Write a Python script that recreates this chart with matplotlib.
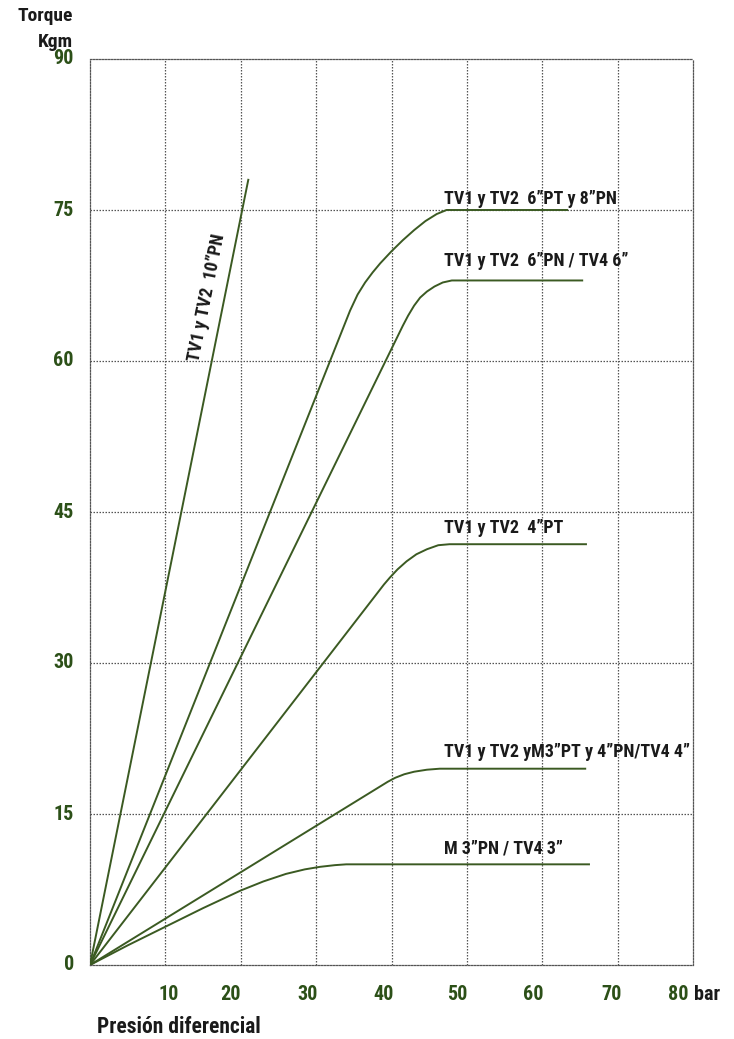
import matplotlib
matplotlib.use("Agg")
import matplotlib.pyplot as plt

FONT = ["Roboto Condensed", "Barlow Condensed", "DejaVu Sans"]
GREEN = "#2c5018"
LINE = "#3b5a22"
TXT = "#1a1a1a"

x_ticks = [10, 20, 30, 40, 50, 60, 70, 80]
y_ticks = [0, 15, 30, 45, 60, 75, 90]

# Curves: (pressure bar, torque kgm)
c_10pn_x = [0, 21]
c_10pn_y = [0, 78]

c_6pt_x = [0, 34.5, 35.5, 36.5, 37.5, 38.5, 40, 41.5, 43, 44.5, 46, 47.3, 63.3]
c_6pt_y = [0, 65.0, 66.6, 67.8, 68.8, 69.7, 70.9, 72.0, 73.0, 73.9, 74.6, 75, 75]

c_6pn_x = [0, 41.5, 42.2, 43.0, 43.8, 44.7, 45.7, 46.8, 48, 65.3]
c_6pn_y = [0, 63.5, 64.5, 65.5, 66.3, 66.9, 67.4, 67.8, 68, 68]

c_4pt_x = [0, 39.0, 39.8, 40.8, 42.0, 43.3, 44.7, 46.2, 47.7, 65.8]
c_4pt_y = [0, 37.8, 38.5, 39.3, 40.1, 40.8, 41.3, 41.7, 41.8, 41.8]

c_4pn_x = [0, 39.5, 40.5, 41.7, 43.0, 44.7, 46.4, 65.7]
c_4pn_y = [0, 18.2, 18.6, 18.95, 19.2, 19.4, 19.5, 19.5]

c_3pn_x = [0, 5, 10, 15, 20, 23, 26, 28.5, 30.5, 32.5, 34, 66.2]
c_3pn_y = [0, 1.95, 3.8, 5.65, 7.4, 8.3, 9.05, 9.5, 9.75, 9.92, 10, 10]

labels = ['TV1 y TV2  6”PT y 8”PN', 'TV1 y TV2  6”PN / TV4 6”', 'TV1 y TV2  4”PT',
          'TV1 y TV2 yM3”PT y 4”PN/TV4 4”', 'M 3”PN / TV4 3”']
label_y = [76.1, 69.9, 43.4, 21.2, 11.55]
label_x = 47.0

# horizontal nudges (pixels) of the printed x tick labels relative to gridlines
x_nudge = [3, -10, -9, -8, -10, -9, -6, -15]

fig = plt.figure(figsize=(7.34, 10.39), dpi=100)
ax = fig.add_axes([90/734, 1 - 965/1039, (693-90)/734, (965-59)/1039])
ax.set_xlim(0, 80)
ax.set_ylim(0, 90)

for xv in x_ticks[:-1]:
    ax.axvline(xv, color="#555555", lw=0.9, ls=(0, (1.2, 1.2)), zorder=1)
for yv in y_ticks[1:-1]:
    ax.axhline(yv, color="#555555", lw=0.9, ls=(0, (1.2, 1.2)), zorder=1)
for s in ax.spines.values():
    s.set_linestyle((0, (1.2, 1.2)))
    s.set_color("#555555")
    s.set_linewidth(0.9)

for xs, ys in [(c_10pn_x, c_10pn_y), (c_6pt_x, c_6pt_y), (c_6pn_x, c_6pn_y),
               (c_4pt_x, c_4pt_y), (c_4pn_x, c_4pn_y), (c_3pn_x, c_3pn_y)]:
    ax.plot(xs, ys, color=LINE, lw=1.4, solid_joinstyle="round", zorder=3)

for lab, ly in zip(labels, label_y):
    ax.text(label_x, ly, lab, family=FONT, fontweight="bold", fontsize=13,
            color=TXT, ha="left", va="center", zorder=4)

ax.text(15.5, 66.3, 'TV1 y TV2  10”PN', family=FONT, fontweight="bold", fontsize=13,
        color=TXT, rotation=78.7, ha="center", va="center", rotation_mode="anchor")

ax.set_xticks([])
ax.set_yticks([])

for xv, dx in zip(x_ticks, x_nudge):
    ax.annotate(str(xv), xy=(xv, 0), xycoords="data", xytext=(dx * 0.72, -29 * 0.72),
                textcoords="offset points", family=FONT, fontweight=900, fontsize=14.5,
                color=GREEN, ha="center", va="center")
ax.annotate("bar", xy=(80, 0), xycoords="data", xytext=(14 * 0.72, -29 * 0.72),
            textcoords="offset points", family=FONT, fontweight="bold", fontsize=14.5,
            color=TXT, ha="center", va="center")
for yv in y_ticks:
    ax.annotate(str(yv), xy=(0, yv), xycoords="data", xytext=(-16 * 0.72, 0),
                textcoords="offset points", family=FONT, fontweight=900, fontsize=14.5,
                color=GREEN, ha="right", va="center")

fig.text(97/734, 1 - 1027/1039, "Presión diferencial", family=FONT, fontweight="bold",
         fontsize=15.5, color=TXT, ha="left", va="center")
fig.text(73/734, 1 - 16/1039, "Torque", family=FONT, fontweight="bold",
         fontsize=14, color=TXT, ha="right", va="center")
fig.text(73/734, 1 - 42/1039, "Kgm", family=FONT, fontweight="bold",
         fontsize=14, color=TXT, ha="right", va="center")

fig.savefig("out.png", dpi=100)
